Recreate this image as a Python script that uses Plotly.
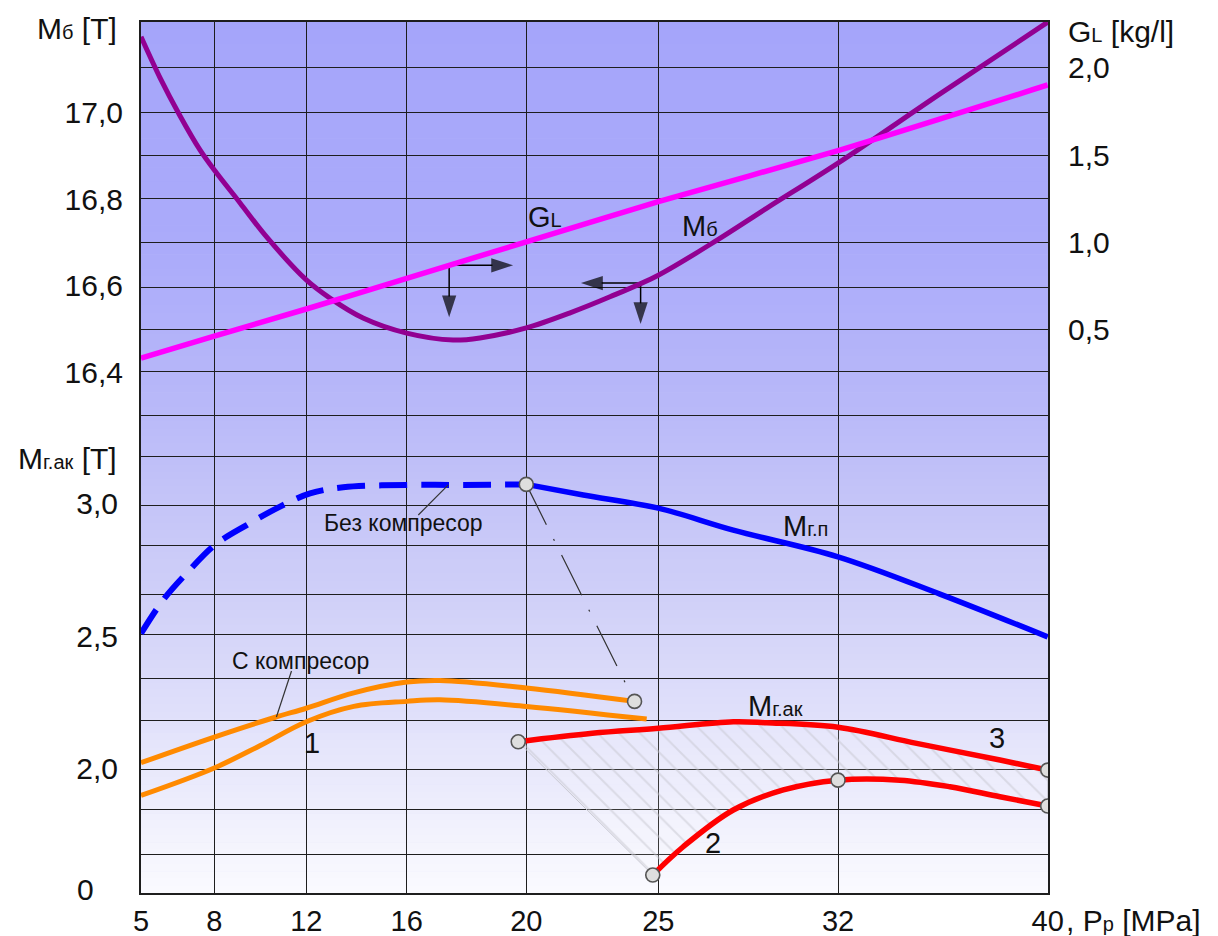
import numpy as np
import plotly.graph_objects as go

# ---------------- data ----------------
P_TICKS = [5, 8, 12, 16, 20, 25, 32, 40]
P_TICKTEXT = ["5", "8", "12", "16", "20", "25", "32", "40"]

# M_б [T]
P_MB = [5, 5.78, 6.6, 7.42, 8, 9.12, 10.2, 12, 12.94, 14.26, 16, 17.55, 18.45,
        20, 21.66, 23.17, 25, 27.29, 29.23, 32, 35.89, 40]
MB = [17.175, 17.080, 16.992, 16.913, 16.867, 16.791, 16.717, 16.613, 16.571,
      16.525, 16.490, 16.474, 16.479, 16.502, 16.537, 16.574, 16.624, 16.705,
      16.779, 16.883, 17.043, 17.209]

# G_L [kg/l]
P_GL = [5, 8, 12, 16, 20, 25, 32, 40]
GL = [0.336, 0.463, 0.618, 0.794, 1.003, 1.233, 1.525, 1.901]

# M_г.п [T]
P_GP = [5, 5.91, 6.87, 8.03, 9.41, 10.86, 12.15, 13.47, 16, 17.89, 20,
        22.16, 25, 27.92, 32, 35.89, 40]
GP = [2.510, 2.637, 2.738, 2.845, 2.920, 2.990, 3.040, 3.063, 3.072, 3.072,
      3.074, 3.034, 2.984, 2.901, 2.800, 2.659, 2.497]

# С компресор (orange): upper curve and curve 1
P_OR_UP = [5, 8, 10.62, 12, 13.89, 16, 17.11, 20, 24.10]
OR_UP = [2.021, 2.118, 2.192, 2.227, 2.285, 2.326, 2.332, 2.304, 2.253]
P_OR_1 = [5, 8, 10, 12, 13.89, 16, 17.11, 20, 24.56]
OR_1 = [1.897, 2.001, 2.086, 2.176, 2.234, 2.253, 2.259, 2.234, 2.186]

# M_г.ак curves 3 and 2
P_R3 = [19.73, 22.5, 25, 27.92, 29.22, 32, 35.0, 38.18, 40]
R3 = [2.100, 2.132, 2.151, 2.176, 2.172, 2.155, 2.094, 2.031, 1.993]
P_R2 = [24.79, 25.97, 27.92, 29.87, 32, 34.37, 36.27, 38.18, 40]
R2 = [1.596, 1.703, 1.842, 1.918, 1.955, 1.955, 1.930, 1.892, 1.857]

# ---------------- layout / scale definitions ----------------
W, H = 1218, 936
TOP, BOTTOM = 22, 893
LEFT, RIGHT = 141, 1048
P_POS = [141, 214.3, 306.3, 406.7, 526.3, 658.3, 838, 1047.7]


def xp(p):
    return np.interp(np.asarray(p, dtype=float), P_TICKS, P_POS)


def mb_px(v):
    return 242.3 - 432.65 * (np.asarray(v) - 16.7)


def gl_px(v):
    return 67.7 - 174.6 * (np.asarray(v) - 2.0)


def mg_px(v):
    return 636.1 - 264.3 * (np.asarray(v) - 2.5)


def inv(f, px):
    a, b = f(0.0), f(1.0)
    return (px - a) / (b - a)


MB_RANGE = [inv(mb_px, BOTTOM), inv(mb_px, TOP)]
GL_RANGE = [inv(gl_px, BOTTOM), inv(gl_px, TOP)]
MG_RANGE = [inv(mg_px, BOTTOM), inv(mg_px, TOP)]

GRID_ROWS = [67.7, 112.3, 155.5, 198.3, 242, 287.5, 329.5, 371, 415, 456.7,
             505, 545, 594, 634, 678.3, 720.7, 769.3, 809.3, 854.3]

FONT = "Liberation Sans, Arial, sans-serif"
INK = "#111111"
PURPLE = "#920092"
MAGENTA = "#FF00FF"
BLUE = "#0000FF"
ORANGE = "#FF8A00"
RED = "#FF0000"


def paper_x(px):
    return (px - LEFT) / (RIGHT - LEFT)


def paper_y(py):
    return (BOTTOM - py) / (BOTTOM - TOP)


fig = go.Figure()

# hatched region between curves 3 and 2
hx = np.concatenate([xp(P_R3), xp(P_R2[::-1]), xp(P_R3[:1])])
hy = np.concatenate([R3, R2[::-1], R3[:1]])
fig.add_trace(go.Scatter(
    x=hx, y=hy, yaxis="y4", mode="lines", fill="toself",
    line=dict(color="#c9c9d2", width=1),
    fillcolor="rgba(0,0,0,0)",
    fillpattern=dict(shape="\\", fgcolor="#c6c6ce", bgcolor="rgba(255,255,255,0.12)",
                     size=15, solidity=0.13),
    hoverinfo="skip", showlegend=False))

fig.add_trace(go.Scatter(x=xp(P_MB), y=MB, yaxis="y2", mode="lines",
                         line=dict(color=PURPLE, width=5, shape="spline", smoothing=0.9),
                         showlegend=False))
fig.add_trace(go.Scatter(x=xp(P_GL), y=GL, yaxis="y3", mode="lines",
                         line=dict(color=MAGENTA, width=5.5, shape="spline", smoothing=0.6),
                         showlegend=False))

split = P_GP.index(20)
fig.add_trace(go.Scatter(x=xp(P_GP[:split + 1]), y=GP[:split + 1], yaxis="y4",
                         mode="lines",
                         line=dict(color=BLUE, width=6, shape="spline", dash="28px,14px"),
                         showlegend=False))
fig.add_trace(go.Scatter(x=xp(P_GP[split:]), y=GP[split:], yaxis="y4", mode="lines",
                         line=dict(color=BLUE, width=5.5, shape="spline"),
                         showlegend=False))

fig.add_trace(go.Scatter(x=xp(P_OR_UP), y=OR_UP, yaxis="y4", mode="lines",
                         line=dict(color=ORANGE, width=5, shape="spline"),
                         showlegend=False))
fig.add_trace(go.Scatter(x=xp(P_OR_1), y=OR_1, yaxis="y4", mode="lines",
                         line=dict(color=ORANGE, width=5, shape="spline"),
                         showlegend=False))

fig.add_trace(go.Scatter(x=xp(P_R3), y=R3, yaxis="y4", mode="lines",
                         line=dict(color=RED, width=5.5, shape="spline"),
                         showlegend=False))
fig.add_trace(go.Scatter(x=xp(P_R2), y=R2, yaxis="y4", mode="lines",
                         line=dict(color=RED, width=5.5, shape="spline"),
                         showlegend=False))

fig.add_trace(go.Scatter(x=xp([P_GP[split], P_OR_UP[-1]]), y=[GP[split], OR_UP[-1]],
                         yaxis="y4", mode="lines",
                         line=dict(color="#333333", width=1.2, dash="45px,16px,2px,16px"),
                         showlegend=False))

cp = [P_GP[split], P_OR_UP[-1], P_R3[0], P_R3[-1], P_R2[0], 32, P_R2[-1]]
cv = [GP[split], OR_UP[-1], R3[0], R3[-1], R2[0], R2[P_R2.index(32)], R2[-1]]
fig.add_trace(go.Scatter(x=xp(cp), y=cv, yaxis="y4", mode="markers",
                         marker=dict(size=14, color="#dedede",
                                     line=dict(color="#555555", width=1.6)),
                         showlegend=False))


# reading arrows (drawn in pixel rows of the grid axis)
def arrow(x0, y0, x1, y1):
    fig.add_trace(go.Scatter(
        x=[x0, x1], y=[y0, y1], yaxis="y", mode="lines+markers",
        line=dict(color="#000000", width=1.5),
        marker=dict(symbol="arrow", angleref="previous", size=[0, 23],
                    color="#000000", line=dict(width=0)),
        hoverinfo="skip", showlegend=False))


pa = 17.42
xa, ya = float(xp(pa)), float(gl_px(np.interp(pa, P_GL, GL)))
arrow(xa, ya, float(xp(19.56)), ya)
arrow(xa, ya, xa, ya + 52)
pb = 24.33
xb, yb = float(xp(pb)), float(mb_px(np.interp(pb, P_MB, MB)))
arrow(xb, yb, float(xp(22.07)), yb)
arrow(xb, yb, xb, yb + 41)

# ---------------- background gradient ----------------
shapes = []
stops_y = [22, 250, 400, 500, 600, 700, 800, 893]
stops_rg = [165, 171, 184, 196, 208, 222, 237, 251]
stops_b = [250, 250, 249, 248, 248, 250, 252, 255]
N = 120
for i in range(N):
    y0 = TOP + i * (BOTTOM - TOP) / N
    y1 = y0 + (BOTTOM - TOP) / N + 0.6
    ym = (y0 + y1) / 2
    rg = int(round(np.interp(ym, stops_y, stops_rg)))
    b = int(round(np.interp(ym, stops_y, stops_b)))
    shapes.append(dict(type="rect", xref="paper", yref="y", x0=0, x1=1,
                       y0=y0, y1=min(y1, BOTTOM), fillcolor=f"rgb({rg},{rg},{b})",
                       line=dict(width=0), layer="below"))

p_bez = 17.39
shapes.append(dict(type="line", xref="x", yref="y", x0=418.3, y0=515,
                   x1=float(xp(p_bez)), y1=float(mg_px(np.interp(p_bez, P_GP, GP))),
                   line=dict(color="#333333", width=1.2), layer="above"))
p_sk = 10.7
shapes.append(dict(type="line", xref="x", yref="y", x0=291.5, y0=671,
                   x1=float(xp(p_sk)), y1=float(mg_px(np.interp(p_sk, P_OR_UP, OR_UP))),
                   line=dict(color="#333333", width=1.2), layer="above"))

# ---------------- annotations ----------------
ann = []


def text(x, y, s, size=29, xanchor="center", yanchor="middle"):
    ann.append(dict(x=paper_x(x), y=paper_y(y), xref="paper", yref="paper", text=s,
                    showarrow=False, xanchor=xanchor, yanchor=yanchor,
                    font=dict(family=FONT, size=size, color=INK)))


def sm(s, size=20):
    return f"<span style='font-size:{size}px'>{s}</span>"


text(119, 29, "M" + sm("б") + " [T]", size=30, xanchor="right")
text(1066, 31, "G" + sm("L") + " [kg/l]", size=30, xanchor="left")
text(119, 458, "M" + sm("г.ак") + " [T]", size=30, xanchor="right")
text(85, 889, "0", size=30)
text(1064, 920, ", P" + sm("p") + " [MPa]", size=30, xanchor="left")
text(403, 523, "Без компресор", size=23)
text(300, 661, "С компресор", size=23)
text(545, 217, "G" + sm("L"))
text(700, 226, "M" + sm("б"))
text(805, 526, "M" + sm("г.п"))
text(775, 706, "M" + sm("г.ак"))
text(312, 743, "1")
text(713, 843, "2")
text(997, 738, "3")

tickfont = dict(family=FONT, size=30, color=INK)
common = dict(showgrid=False, zeroline=False, showline=False, ticks="",
              tickfont=tickfont, fixedrange=True, automargin=False,
              overlaying="y", anchor="x")

fig.update_layout(
    width=W, height=H,
    margin=dict(l=LEFT, r=W - RIGHT, t=TOP, b=H - BOTTOM, pad=0, autoexpand=False),
    paper_bgcolor="white", plot_bgcolor="rgb(200,200,250)",
    showlegend=False,
    shapes=shapes, annotations=ann,
    xaxis=dict(range=[LEFT, RIGHT], tickvals=P_POS, ticktext=P_TICKTEXT,
               showgrid=True, gridcolor="#1e1e1e", gridwidth=1.4, zeroline=False,
               showline=True, linecolor="#1e1e1e", linewidth=1.6, mirror=True,
               ticks="", tickfont=dict(family=FONT, size=29, color=INK),
               ticklabelstandoff=1, fixedrange=True, automargin=False),
    yaxis=dict(range=[BOTTOM, TOP], tickvals=GRID_ROWS, showticklabels=False,
               showgrid=True, gridcolor="#1e1e1e", gridwidth=1.4, zeroline=False,
               showline=True, linecolor="#1e1e1e", linewidth=1.6, mirror=True,
               ticks="", fixedrange=True, automargin=False),
    yaxis2=dict(range=MB_RANGE, side="left",
                tickvals=[16.4, 16.6, 16.8, 17.0],
                ticktext=["16,4", "16,6", "16,8", "17,0"],
                ticklabelstandoff=17, **common),
    yaxis3=dict(range=GL_RANGE, side="right",
                tickvals=[0.5, 1.0, 1.5, 2.0],
                ticktext=["0,5", "1,0", "1,5", "2,0"],
                ticklabelstandoff=19, **common),
    yaxis4=dict(range=MG_RANGE, side="left",
                tickvals=[2.0, 2.5, 3.0], ticktext=["2,0", "2,5", "3,0"],
                ticklabelstandoff=22, **common),
)

fig.write_html("out.html", config={"displayModeBar": False},
               post_script="document.documentElement.style.margin='0px';"
                           "document.body.style.margin='0px';")
